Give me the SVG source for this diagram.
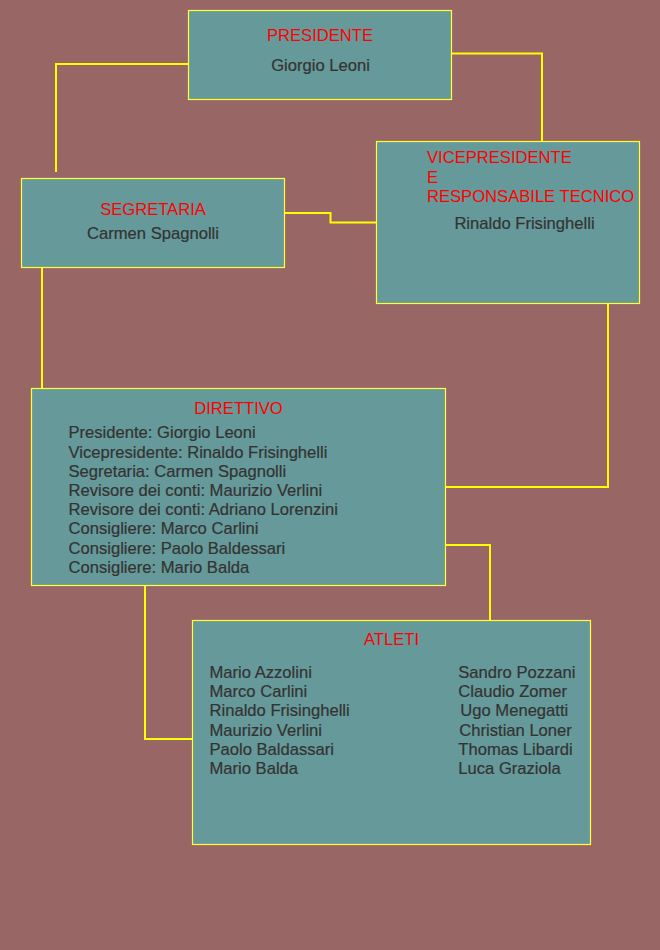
<svg xmlns="http://www.w3.org/2000/svg" width="660" height="950" viewBox="0 0 660 950">
<style>
.box{fill:#669999;stroke:#ffff33;stroke-width:1.2}
.title{font-family:"Liberation Sans",Arial,sans-serif;font-size:16.6px;fill:#ff0000}
.txt{font-family:"Liberation Sans",Arial,sans-serif;font-size:16.6px;fill:#333333;stroke:#333333;stroke-width:0.2}
.mid{text-anchor:middle}
.conn{fill:none;stroke:#ffff00;stroke-width:2}
</style>
<rect width="660" height="950" fill="#996666"/>
<g id="connectors">
<polyline class="conn" points="188,64 56,64 56,172"/>
<polyline class="conn" points="452,53.5 542,53.5 542,141"/>
<polyline class="conn" points="284,213 330.5,213 330.5,222.5 376,222.5"/>
<polyline class="conn" points="42,267 42,388"/>
<polyline class="conn" points="608,303 608,487 445,487"/>
<polyline class="conn" points="445,545 490,545 490,620"/>
<polyline class="conn" points="145,585 145,739 192,739"/>
</g>
<g id="presidente">
<rect class="box" x="188.5" y="10.5" width="263" height="89"/>
<text class="title mid" x="320" y="41">PRESIDENTE</text>
<text class="txt mid" x="320.5" y="71">Giorgio Leoni</text>
</g>
<g id="segretaria">
<rect class="box" x="21.5" y="178.5" width="263" height="89"/>
<text class="title mid" x="153" y="215">SEGRETARIA</text>
<text class="txt mid" x="153" y="239">Carmen Spagnolli</text>
</g>
<g id="vicepresidente">
<rect class="box" x="376.5" y="141.5" width="263" height="162"/>
<text class="title" x="427" y="163">VICEPRESIDENTE</text>
<text class="title" x="427" y="182.5">E</text>
<text class="title" x="427" y="202">RESPONSABILE TECNICO</text>
<text class="txt mid" x="524.5" y="229">Rinaldo Frisinghelli</text>
</g>
<g id="direttivo">
<rect class="box" x="31.5" y="388.5" width="414" height="197"/>
<text class="title mid" x="238.5" y="414">DIRETTIVO</text>
<text class="txt" x="68.5" y="438.3">Presidente: Giorgio Leoni</text>
<text class="txt" x="68.5" y="457.5">Vicepresidente: Rinaldo Frisinghelli</text>
<text class="txt" x="68.5" y="476.7">Segretaria: Carmen Spagnolli</text>
<text class="txt" x="68.5" y="495.9">Revisore dei conti: Maurizio Verlini</text>
<text class="txt" x="68.5" y="515.1">Revisore dei conti: Adriano Lorenzini</text>
<text class="txt" x="68.5" y="534.3">Consigliere: Marco Carlini</text>
<text class="txt" x="68.5" y="553.5">Consigliere: Paolo Baldessari</text>
<text class="txt" x="68.5" y="572.7">Consigliere: Mario Balda</text>
</g>
<g id="atleti">
<rect class="box" x="192.5" y="620.5" width="398" height="224"/>
<text class="title mid" x="391.5" y="645">ATLETI</text>
<text class="txt" x="209.5" y="678">Mario Azzolini</text>
<text class="txt" x="209.5" y="697.2">Marco Carlini</text>
<text class="txt" x="209.5" y="716.4">Rinaldo Frisinghelli</text>
<text class="txt" x="209.5" y="735.6">Maurizio Verlini</text>
<text class="txt" x="209.5" y="754.8">Paolo Baldassari</text>
<text class="txt" x="209.5" y="774">Mario Balda</text>
<text class="txt" x="458.3" y="678">Sandro Pozzani</text>
<text class="txt" x="458.3" y="697.2">Claudio Zomer</text>
<text class="txt" x="460.3" y="716.4">Ugo Menegatti</text>
<text class="txt" x="459.3" y="735.6">Christian Loner</text>
<text class="txt" x="458.3" y="754.8">Thomas Libardi</text>
<text class="txt" x="458.3" y="774">Luca Graziola</text>
</g>
</svg>
